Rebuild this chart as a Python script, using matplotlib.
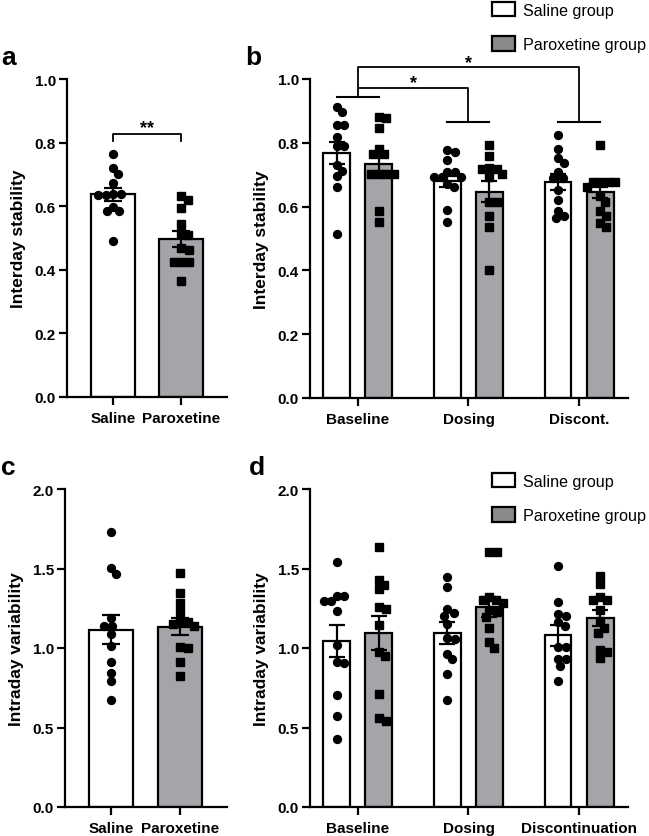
import numpy as np
import matplotlib
matplotlib.use("Agg")
import matplotlib.pyplot as plt
from matplotlib.patches import Patch

plt.rcParams['font.family'] = ['Liberation Sans', 'DejaVu Sans']

# ---------------- data ----------------
a_groups = ["Saline", "Paroxetine"]
a_saline = [0.763, 0.719, 0.70, 0.674, 0.639, 0.635, 0.635, 0.637, 0.584, 0.584, 0.597, 0.49]
a_parox = [0.621, 0.632, 0.593, 0.544, 0.508, 0.516, 0.463, 0.468, 0.424, 0.424, 0.424, 0.366]
a_means = [0.637, 0.497]
a_sems = [0.021, 0.024]

b_phases = ["Baseline", "Dosing", "Discont."]
b_saline = [
    [0.913, 0.896, 0.857, 0.857, 0.817, 0.789, 0.789, 0.730, 0.713, 0.695, 0.662, 0.514],
    [0.777, 0.772, 0.746, 0.707, 0.707, 0.692, 0.692, 0.692, 0.660, 0.671, 0.589, 0.551],
    [0.824, 0.781, 0.752, 0.737, 0.708, 0.690, 0.690, 0.652, 0.621, 0.586, 0.564, 0.571],
]
b_parox = [
    [0.878, 0.882, 0.846, 0.781, 0.765, 0.765, 0.702, 0.702, 0.702, 0.702, 0.585, 0.553],
    [0.794, 0.758, 0.718, 0.718, 0.721, 0.692, 0.702, 0.615, 0.615, 0.569, 0.535, 0.402],
    [0.793, 0.677, 0.677, 0.677, 0.677, 0.661, 0.633, 0.615, 0.585, 0.570, 0.550, 0.536],
]
b_sal_means = [0.767, 0.679, 0.678]
b_sal_sems = [0.034, 0.018, 0.025]
b_par_means = [0.734, 0.647, 0.645]
b_par_sems = [0.032, 0.033, 0.018]

c_groups = ["Saline", "Paroxetine"]
c_saline = [1.732, 1.466, 1.502, 1.188, 1.137, 1.141, 1.085, 1.012, 0.911, 0.844, 0.792, 0.670]
c_parox = [1.472, 1.347, 1.282, 1.225, 1.167, 1.162, 1.152, 1.14, 0.999, 1.005, 0.915, 0.823]
c_means = [1.116, 1.135]
c_sems = [0.093, 0.055]

d_phases = ["Baseline", "Dosing", "Discontinuation"]
d_saline = [
    [1.544, 1.324, 1.298, 1.298, 1.330, 1.230, 1.016, 0.915, 0.907, 0.702, 0.572, 0.429],
    [1.449, 1.382, 1.221, 1.204, 1.246, 1.150, 1.058, 1.062, 0.928, 0.963, 0.838, 0.676],
    [1.514, 1.292, 1.204, 1.211, 1.137, 1.162, 1.005, 1.005, 0.932, 0.932, 0.886, 0.792],
]
d_parox = [
    [1.634, 1.399, 1.430, 1.368, 1.246, 1.261, 1.146, 0.974, 0.947, 0.708, 0.540, 0.559],
    [1.606, 1.602, 1.303, 1.323, 1.303, 1.225, 1.236, 1.194, 1.125, 1.037, 0.999, 1.28],
    [1.451, 1.403, 1.303, 1.303, 1.320, 1.236, 1.125, 1.167, 1.095, 0.988, 0.938, 0.974],
]
d_sal_means = [1.043, 1.095, 1.079]
d_sal_sems = [0.10, 0.07, 0.065]
d_par_means = [1.095, 1.257, 1.187]
d_par_sems = [0.105, 0.063, 0.05]

legend_labels = ["Saline group", "Paroxetine group"]

# ---------------- style ----------------
W, H = 649, 837
DPI = 100
BAR_GRAY = '#a4a4a9'
LEG_GRAY = '#8a8a8a'
LW = 1.6

fig = plt.figure(figsize=(W / DPI, H / DPI), dpi=DPI)


def add_ax(left, right, bottom, top):
    return fig.add_axes([left / W, 1 - bottom / H, (right - left) / W, (bottom - top) / H])


def style_ax(ax, ymax, step, ylabel):
    ax.set_ylim(0, ymax)
    ax.set_yticks(np.arange(0, ymax + 1e-9, step))
    ax.set_yticklabels([f"{v:.1f}" for v in np.arange(0, ymax + 1e-9, step)])
    for s in ['top', 'right']:
        ax.spines[s].set_visible(False)
    for s in ['left', 'bottom']:
        ax.spines[s].set_linewidth(LW)
    ax.tick_params(axis='both', direction='out', length=6, width=LW, labelsize=11, pad=2)
    ax.tick_params(axis='x', pad=4)
    for lab in ax.get_yticklabels() + ax.get_xticklabels():
        lab.set_fontweight('bold')
    ax.set_ylabel(ylabel, fontsize=12.5, fontweight='bold', labelpad=6)


def swarm_offsets(ax, ys, d_px=7.5):
    ys = np.asarray(ys, float)
    p0 = ax.transData.transform((0, 0))
    p1 = ax.transData.transform((1, 1))
    ppx = p1[0] - p0[0]
    ppy = p1[1] - p0[1]
    ypx = ys * ppy
    order = np.argsort(-ys, kind='stable')
    placed = []
    xs = np.zeros(len(ys))
    for i in order:
        y = ypx[i]
        cands = [0.0]
        for (xj, yj) in placed:
            dy = y - yj
            if abs(dy) < d_px:
                dx = np.sqrt(d_px ** 2 - dy ** 2)
                cands += [xj + dx, xj - dx]
        cands = sorted(cands, key=lambda c: (abs(c), -c))
        chosen = cands[-1]
        for c in cands:
            ok = True
            for (xj, yj) in placed:
                if (c - xj) ** 2 + (y - yj) ** 2 < d_px ** 2 - 1e-6:
                    ok = False
                    break
            if ok:
                chosen = c
                break
        placed.append((chosen, y))
        xs[i] = chosen
    return xs / ppx


def draw_group(ax, x, mean, sem, pts, face, marker, width, capsize):
    ax.bar(x, mean, width=width, color=face, edgecolor='black', linewidth=LW, zorder=2)
    offs = swarm_offsets(ax, pts)
    ms = 5.7 if marker == 'o' else 5.1
    ax.plot(x + offs, pts, linestyle='none', marker=marker, color='black',
            markersize=ms, zorder=3, clip_on=False)
    ax.errorbar(x, mean, yerr=sem, fmt='none', ecolor='black', elinewidth=LW,
                capsize=capsize, capthick=LW, zorder=4)


def bracket(ax, x0, x1, y, drop, text, tsize=13, tdy=-0.008):
    ax.plot([x0, x0, x1, x1], [y - drop, y, y, y - drop], color='black', lw=1.3,
            clip_on=False, zorder=5)
    ax.text((x0 + x1) / 2, y + tdy, text, ha='center', va='bottom',
            fontsize=tsize, fontweight='bold', clip_on=False)


# ---------------- panel a ----------------
ax_a = add_ax(67, 227, 398, 80)
ax_a.set_xlim(-0.676, 1.67)
style_ax(ax_a, 1.0, 0.2, "Interday stability")
ax_a.set_xticks([0, 1])
ax_a.set_xticklabels(a_groups, fontweight='bold', fontsize=11)
draw_group(ax_a, 0, a_means[0], a_sems[0], a_saline, 'white', 'o', 0.65, 6.5)
draw_group(ax_a, 1, a_means[1], a_sems[1], a_parox, BAR_GRAY, 's', 0.65, 6.5)
bracket(ax_a, 0, 1, 0.828, 0.023, "**")

# ---------------- panel b ----------------
ax_b = add_ax(310, 628, 399, 80)
ax_b.set_xlim(-0.43, 2.44)
style_ax(ax_b, 1.0, 0.2, "Interday stability")
xb = np.arange(len(b_phases))
ax_b.set_xticks(xb)
ax_b.set_xticklabels(b_phases, fontweight='bold', fontsize=11)
OFF, BW = 0.19, 0.24
for i in range(len(b_phases)):
    draw_group(ax_b, xb[i] - OFF, b_sal_means[i], b_sal_sems[i], b_saline[i], 'white', 'o', BW, 5.5)
    draw_group(ax_b, xb[i] + OFF, b_par_means[i], b_par_sems[i], b_parox[i], BAR_GRAY, 's', BW, 5.5)
# phase-level lines
for i, yl in zip(range(3), [0.945, 0.864, 0.864]):
    ax_b.plot([xb[i] - OFF, xb[i] + OFF], [yl, yl], color='black', lw=1.5, clip_on=False, zorder=5)
ax_b.plot([0, 0, 1, 1], [0.945, 0.972, 0.972, 0.864], color='black', lw=1.3, clip_on=False)
ax_b.text(0.5, 0.962, "*", ha='center', va='bottom', fontsize=13, fontweight='bold')
ax_b.plot([0, 0, 2, 2], [0.972, 1.037, 1.037, 0.864], color='black', lw=1.3, clip_on=False)
ax_b.text(1.0, 1.025, "*", ha='center', va='bottom', fontsize=13, fontweight='bold')

handles = [Patch(facecolor='white', edgecolor='black', linewidth=LW),
           Patch(facecolor=LEG_GRAY, edgecolor='black', linewidth=LW)]
leg_kw = dict(loc='upper left', bbox_transform=fig.transFigure, frameon=False,
              fontsize=11.6, handlelength=1.4, handleheight=1.0, handletextpad=0.5,
              labelspacing=1.15, borderpad=0, borderaxespad=0)
fig.legend(handles, legend_labels, bbox_to_anchor=(492 / W, 1 - 3 / H), **leg_kw)

# ---------------- panel c ----------------
ax_c = add_ax(65, 227, 808, 490)
ax_c.set_xlim(-0.667, 1.68)
style_ax(ax_c, 2.0, 0.5, "Intraday variability")
ax_c.set_xticks([0, 1])
ax_c.set_xticklabels(c_groups, fontweight='bold', fontsize=11)
draw_group(ax_c, 0, c_means[0], c_sems[0], c_saline, 'white', 'o', 0.64, 6.5)
draw_group(ax_c, 1, c_means[1], c_sems[1], c_parox, BAR_GRAY, 's', 0.64, 6.5)

# ---------------- panel d ----------------
ax_d = add_ax(310, 628, 808, 490)
ax_d.set_xlim(-0.43, 2.44)
style_ax(ax_d, 2.0, 0.5, "Intraday variability")
ax_d.set_xticks(xb)
ax_d.set_xticklabels(d_phases, fontweight='bold', fontsize=11)
for i in range(len(d_phases)):
    draw_group(ax_d, xb[i] - OFF, d_sal_means[i], d_sal_sems[i], d_saline[i], 'white', 'o', BW, 5.5)
    draw_group(ax_d, xb[i] + OFF, d_par_means[i], d_par_sems[i], d_parox[i], BAR_GRAY, 's', BW, 5.5)
fig.legend(handles, legend_labels, bbox_to_anchor=(492 / W, 1 - 474 / H), **leg_kw)

# ---------------- panel letters ----------------
for lab, x, y in [("a", 1, 65), ("b", 245, 65), ("c", 1, 475), ("d", 249, 475)]:
    fig.text(x / W, 1 - y / H, lab, fontsize=19, fontweight='bold', ha='left', va='baseline')

fig.savefig("out.png", dpi=DPI)
